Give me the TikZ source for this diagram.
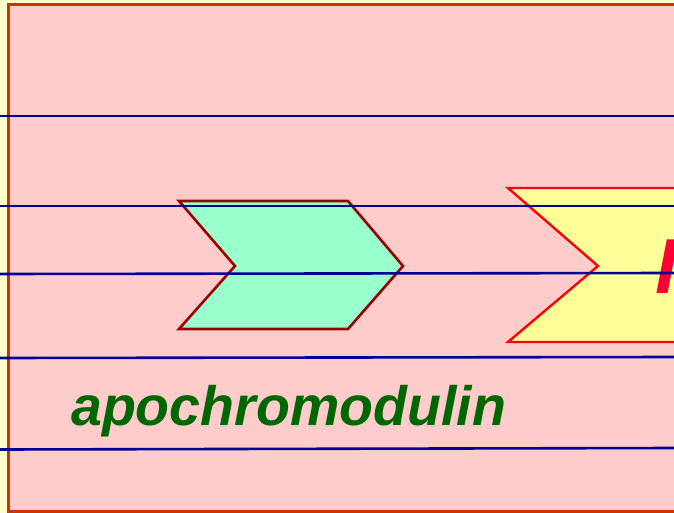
\documentclass[tikz,border=0pt]{standalone}
\usepackage{fontspec}
\setmainfont{Liberation Sans}
\definecolor{bgout}{HTML}{FFFFCC}
\definecolor{pinkfill}{HTML}{FFCCCC}
\definecolor{frameC}{HTML}{CC3300}
\definecolor{navy}{HTML}{000099}
\definecolor{greenfill}{HTML}{99FFCC}
\definecolor{darkred}{HTML}{990000}
\definecolor{yellowfill}{HTML}{FFFF99}
\definecolor{textgreen}{HTML}{006600}
\definecolor{textred}{HTML}{FF0033}
\tikzset{
  rule/.style={draw=navy, line width=2.6pt},
  greenchev/.style={fill=greenfill, draw=darkred, line width=2.6pt, line join=miter},
  yellowchev/.style={fill=yellowfill, draw=red, line width=2.4pt, line join=miter},
  frame/.style={fill=pinkfill, draw=frameC, line width=3pt},
}
\begin{document}
\begin{tikzpicture}[x=1pt,y=-1pt]
\useasboundingbox (0,0) rectangle (674,513);
\clip (0,0) rectangle (674,513);
\fill[bgout] (0,0) rectangle (674,513);
\draw[frame] (8,4.5) rectangle (700,511.5);
% green chevron
\draw[greenchev] (179,201) -- (348,201) -- (403,266) -- (348,329) -- (179,329) -- (235,266) -- cycle;
% yellow chevron
\draw[yellowchev] (720,188) -- (508,188) -- (598,266) -- (508,342) -- (720,342);
% texts
\node[anchor=base west, inner sep=0pt, text=textgreen, font=\fontsize{55.5}{60}\selectfont\bfseries\itshape] (apo) at (71,425) {apochromodulin};
\node[anchor=base west, inner sep=0pt, text=textred, font=\fontsize{78}{80}\selectfont\bfseries\itshape] (big) at (655,293) {I};
% rules
\coordinate (l1a) at (0,116); \coordinate (l1b) at (674,116);
\coordinate (l2a) at (0,206); \coordinate (l2b) at (674,206);
\coordinate (l3a) at (0,274); \coordinate (l3b) at (674,273);
\coordinate (l4a) at (0,358); \coordinate (l4b) at (674,357);
\coordinate (l5a) at (0,449.5); \coordinate (l5b) at (674,448);
\draw[rule] (l1a) -- (l1b);
\draw[rule] (l2a) -- (l2b);
\draw[rule] (l3a) -- (l3b);
\draw[rule] (l4a) -- (l4b);
\draw[rule] (l5a) -- (l5b);
\end{tikzpicture}
\end{document}
